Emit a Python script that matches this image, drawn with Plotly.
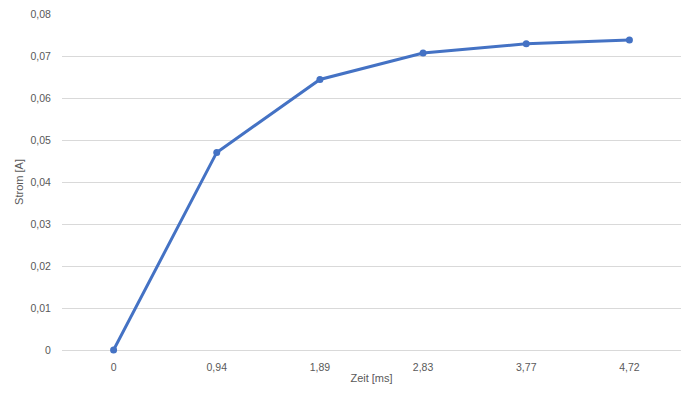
import plotly.graph_objects as go

zeit_labels = ["0", "0,94", "1,89", "2,83", "3,77", "4,72"]
strom = [0.0, 0.0471, 0.0645, 0.0708, 0.0730, 0.0739]
y_tick_vals = [0, 0.01, 0.02, 0.03, 0.04, 0.05, 0.06, 0.07, 0.08]
y_tick_text = ["0", "0,01", "0,02", "0,03", "0,04", "0,05", "0,06", "0,07", "0,08"]

font_family = "Liberation Sans, Arial, sans-serif"
grey = "#595959"

fig = go.Figure(go.Scatter(
    x=zeit_labels, y=strom, mode="lines+markers",
    line=dict(color="#4472C4", width=3),
    marker=dict(color="#4472C4", size=7),
    cliponaxis=False,
))

# page body has an 8px margin; compensate so the plot sits where the reference has it
fig.update_layout(
    width=682, height=387,
    margin=dict(l=54, r=9, t=6, b=45),
    paper_bgcolor="white", plot_bgcolor="white",
    showlegend=False,
    font=dict(family=font_family, size=10.5, color=grey),
)
fig.update_xaxes(
    type="category", range=[-0.5, 5.5],
    showgrid=False, showline=False, zeroline=False,
    ticks="outside", ticklen=7, tickcolor="rgba(0,0,0,0)",
    tickfont=dict(size=10.5, color=grey), automargin=False,
    title=dict(text="Zeit [ms]", font=dict(size=11, color=grey), standoff=2),
)
fig.update_yaxes(
    range=[0, 0.0801], tickvals=y_tick_vals, ticktext=y_tick_text,
    showgrid=True, gridcolor="#D9D9D9", gridwidth=1, zeroline=True,
    zerolinecolor="#D9D9D9", zerolinewidth=1, showline=False,
    ticks="outside", ticklen=8, tickcolor="rgba(0,0,0,0)",
    ticklabeloverflow="allow",
    tickfont=dict(size=10.5, color=grey), automargin=False,
    title=dict(text="Strom [A]", font=dict(size=11, color=grey), standoff=4),
)

fig.write_html("out.html")
